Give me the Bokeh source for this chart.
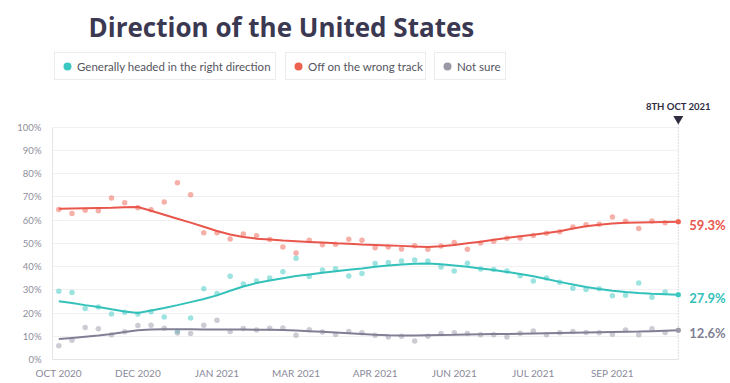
from bokeh.plotting import figure
from bokeh.models import (ColumnDataSource, FixedTicker, Label, Legend, LegendItem,
                          Range1d, PrintfTickFormatter)
from bokeh.embed import file_html
from bokeh.resources import INLINE

TITLE = "Direction of the United States"
SERIES_NAMES = ["Generally headed in the right direction", "Off on the wrong track", "Not sure"]
TICK_LABELS = ["OCT 2020", "DEC 2020", "JAN 2021", "MAR 2021", "APR 2021", "JUN 2021", "JUL 2021", "SEP 2021"]
DATE_LABEL = "8TH OCT 2021"
Y_TICKS = list(range(0, 101, 10))

RIGHT = [29.4, 28.8, 21.9, 22.6, 19.6, 20.3, 19.6, 20.6, 18.3, 12.2, 17.9, 30.5,
         28.4, 35.8, 32.5, 33.8, 35.1, 37.8, 43.6, 35.7, 38.5, 39.1, 35.9, 37.0,
         41.3, 41.7, 42.4, 42.8, 42.4, 39.8, 38.1, 41.4, 39.0, 38.7, 38.1, 36.0,
         33.8, 35.1, 33.2, 30.7, 30.1, 30.5, 27.4, 27.6, 32.9, 26.8, 29.1, 27.9]
WRONG = [64.6, 62.8, 64.2, 64.0, 69.5, 67.5, 65.3, 64.4, 67.8, 76.1, 70.9, 54.6,
         54.6, 51.9, 54.0, 53.3, 51.6, 48.4, 45.8, 51.3, 49.4, 49.6, 51.7, 51.3,
         48.1, 48.4, 47.6, 49.0, 47.4, 48.8, 50.3, 47.4, 50.1, 50.9, 52.2, 52.3,
         53.4, 54.3, 55.0, 57.0, 58.0, 58.2, 61.3, 59.5, 56.4, 59.6, 58.9, 59.3]
NOT_SURE = [5.9, 8.3, 13.8, 13.2, 10.7, 11.9, 14.6, 14.7, 13.5, 11.4, 11.2, 14.7,
            16.9, 12.0, 13.3, 12.7, 13.5, 13.6, 10.4, 12.8, 11.8, 10.8, 12.1, 11.5,
            10.4, 9.7, 10.0, 8.0, 10.0, 11.2, 11.5, 11.2, 10.7, 10.7, 9.7, 11.3,
            12.3, 10.6, 11.5, 12.0, 11.6, 11.5, 10.9, 12.7, 10.6, 13.2, 11.6, 12.6]

RIGHT_TREND = [25.1, 24.3, 23.4, 22.6, 21.6, 20.7, 20.0, 21.1, 22.2, 23.4, 24.7, 26.0,
               27.6, 29.6, 31.4, 32.9, 34.0, 35.0, 35.9, 36.6, 37.3, 38.0, 38.6, 39.2,
               39.9, 40.5, 40.9, 41.2, 41.3, 41.0, 40.5, 39.9, 39.2, 38.5, 37.7, 36.8,
               35.8, 34.6, 33.4, 32.3, 31.2, 30.3, 29.6, 29.0, 28.6, 28.3, 28.1, 27.9]
WRONG_TREND = [64.9, 65.0, 65.1, 65.2, 65.3, 65.5, 65.6, 64.0, 62.3, 60.6, 58.9, 57.1,
               55.3, 53.8, 52.7, 52.0, 51.6, 51.2, 50.9, 50.6, 50.3, 50.0, 49.8, 49.5,
               49.3, 49.1, 48.9, 48.6, 48.4, 48.7, 49.3, 50.0, 50.7, 51.5, 52.3, 53.0,
               53.7, 54.4, 55.2, 56.4, 57.3, 58.0, 58.5, 58.8, 59.0, 59.1, 59.2, 59.3]
NOT_SURE_TREND = [8.8, 9.3, 9.8, 10.3, 11.0, 11.8, 12.6, 12.9, 13.0, 13.0, 13.0, 12.9,
                  12.9, 12.9, 12.9, 12.8, 12.8, 12.7, 12.5, 12.2, 11.9, 11.6, 11.3, 11.0,
                  10.6, 10.4, 10.3, 10.3, 10.4, 10.5, 10.6, 10.8, 10.9, 11.0, 11.0, 11.1,
                  11.2, 11.3, 11.4, 11.5, 11.6, 11.7, 11.8, 11.9, 12.0, 12.2, 12.4, 12.6]

LINE_COLORS = ["#33c1ba", "#e9564c", "#827f95"]
DOT_COLORS = ["#3cc8c2", "#ee6150", "#9b98a8"]
LEGEND_X = [2, 233, 382]
LEGEND_LABEL_W = [196, 115, 46]

n = len(RIGHT)
idx = list(range(n))
X_START, X_END = -0.478, 50.96
Y_END = 154.5
TRI_Y = 103.6

p = figure(width=730, height=383, output_backend="svg", toolbar_location=None,
           x_range=Range1d(X_START, X_END), y_range=Range1d(0, Y_END),
           min_border_left=52, min_border_right=0, min_border_top=0,
           min_border_bottom=24, outline_line_color=None,
           background_fill_color="white", border_fill_color="white")

# axes
p.xaxis.ticker = FixedTicker(ticks=idx[::6][:len(TICK_LABELS)])
p.xaxis.major_label_overrides = {i * 6: lab for i, lab in enumerate(TICK_LABELS)}
p.xaxis.bounds = (X_START, n - 1)
p.xaxis.major_tick_out = 0
p.xaxis.major_tick_in = 0
p.xaxis.minor_tick_out = 0
p.xaxis.minor_tick_in = 0
p.xaxis.axis_line_color = "#e3e3e8"
p.xaxis.major_label_standoff = 7
p.xaxis.major_label_text_font = "Lato"
p.xaxis.major_label_text_font_size = "10px"
p.xaxis.major_label_text_color = "#8a8a9a"

p.yaxis.ticker = FixedTicker(ticks=Y_TICKS)
p.yaxis.formatter = PrintfTickFormatter(format="%d%%")
p.yaxis.bounds = (0, 100)
p.yaxis.major_tick_out = 0
p.yaxis.major_tick_in = 0
p.yaxis.minor_tick_out = 0
p.yaxis.minor_tick_in = 0
p.yaxis.axis_line_color = "#e3e3e8"
p.yaxis.major_label_standoff = 11
p.yaxis.major_label_text_font = "Lato"
p.yaxis.major_label_text_font_size = "9.5px"
p.yaxis.major_label_text_color = "#8e8e9c"

p.xgrid.grid_line_color = None
p.ygrid.grid_line_color = "#f1f1f4"
p.ygrid.bounds = (0, 100)
p.ygrid.cross_bounds = (X_START, n - 1)

series = [RIGHT, WRONG, NOT_SURE]
trends = [RIGHT_TREND, WRONG_TREND, NOT_SURE_TREND]

# dotted "today" line with marker
p.segment(x0=[idx[-1]], y0=[0], x1=[idx[-1]], y1=[TRI_Y], line_color="#b8b8c4",
          line_dash="1 2", line_width=1)

end_renderers = []
for s, t, lc, dc in zip(series, trends, LINE_COLORS, DOT_COLORS):
    src = ColumnDataSource(dict(x=idx, y=s, t=t))
    p.scatter("x", "y", source=src, size=5.5, fill_color=dc, fill_alpha=0.5,
              line_color=None)
    p.line("x", "t", source=src, line_color=lc, line_width=2)
for s, lc, dc in zip(series, LINE_COLORS, DOT_COLORS):
    end_src = ColumnDataSource(dict(x=[idx[-1]], y=[s[-1]]))
    r = p.scatter("x", "y", source=end_src, size=5, fill_color=dc, line_color=None)
    end_renderers.append(r)
    p.add_layout(Label(x=idx[-1], y=s[-1], x_offset=11, y_offset=-3,
                       text=f"{s[-1]}%", text_baseline="middle",
                       text_font="Lato", text_font_style="bold",
                       text_font_size="13px", text_color=lc))

p.scatter(x=[idx[-1]], y=[TRI_Y], marker="inverted_triangle", size=10,
          fill_color="#2e2c3e", line_color=None)
p.add_layout(Label(x=idx[-1], y=252.6, y_units="screen", text=DATE_LABEL,
                   text_align="center", text_baseline="middle", text_font="Lato",
                   text_font_style="bold", text_font_size="9.5px",
                   text_color="#2e2c3e"))

# title
p.add_layout(Label(x=36, y=333, x_units="screen", y_units="screen", text=TITLE,
                   text_font="Open Sans", text_font_style="bold", text_font_size="26px",
                   text_color="#3b3852", text_baseline="alphabetic"))

# legend boxes
for name, r, lx, lw in zip(SERIES_NAMES, end_renderers, LEGEND_X, LEGEND_LABEL_W):
    leg = Legend(items=[LegendItem(label=name, renderers=[r])], location=(lx, 279),
                 orientation="horizontal", padding=2, margin=0, spacing=0,
                 glyph_width=20, glyph_height=22, label_height=22, label_width=lw,
                 label_standoff=0, label_text_font="Lato",
                 label_text_font_size="11.5px", label_text_color="#555560",
                 border_line_color="#d9d9e0", border_line_width=1,
                 background_fill_color="white", background_fill_alpha=1)
    p.add_layout(leg, "center")

open("out.html", "w").write(file_html(p, INLINE))
